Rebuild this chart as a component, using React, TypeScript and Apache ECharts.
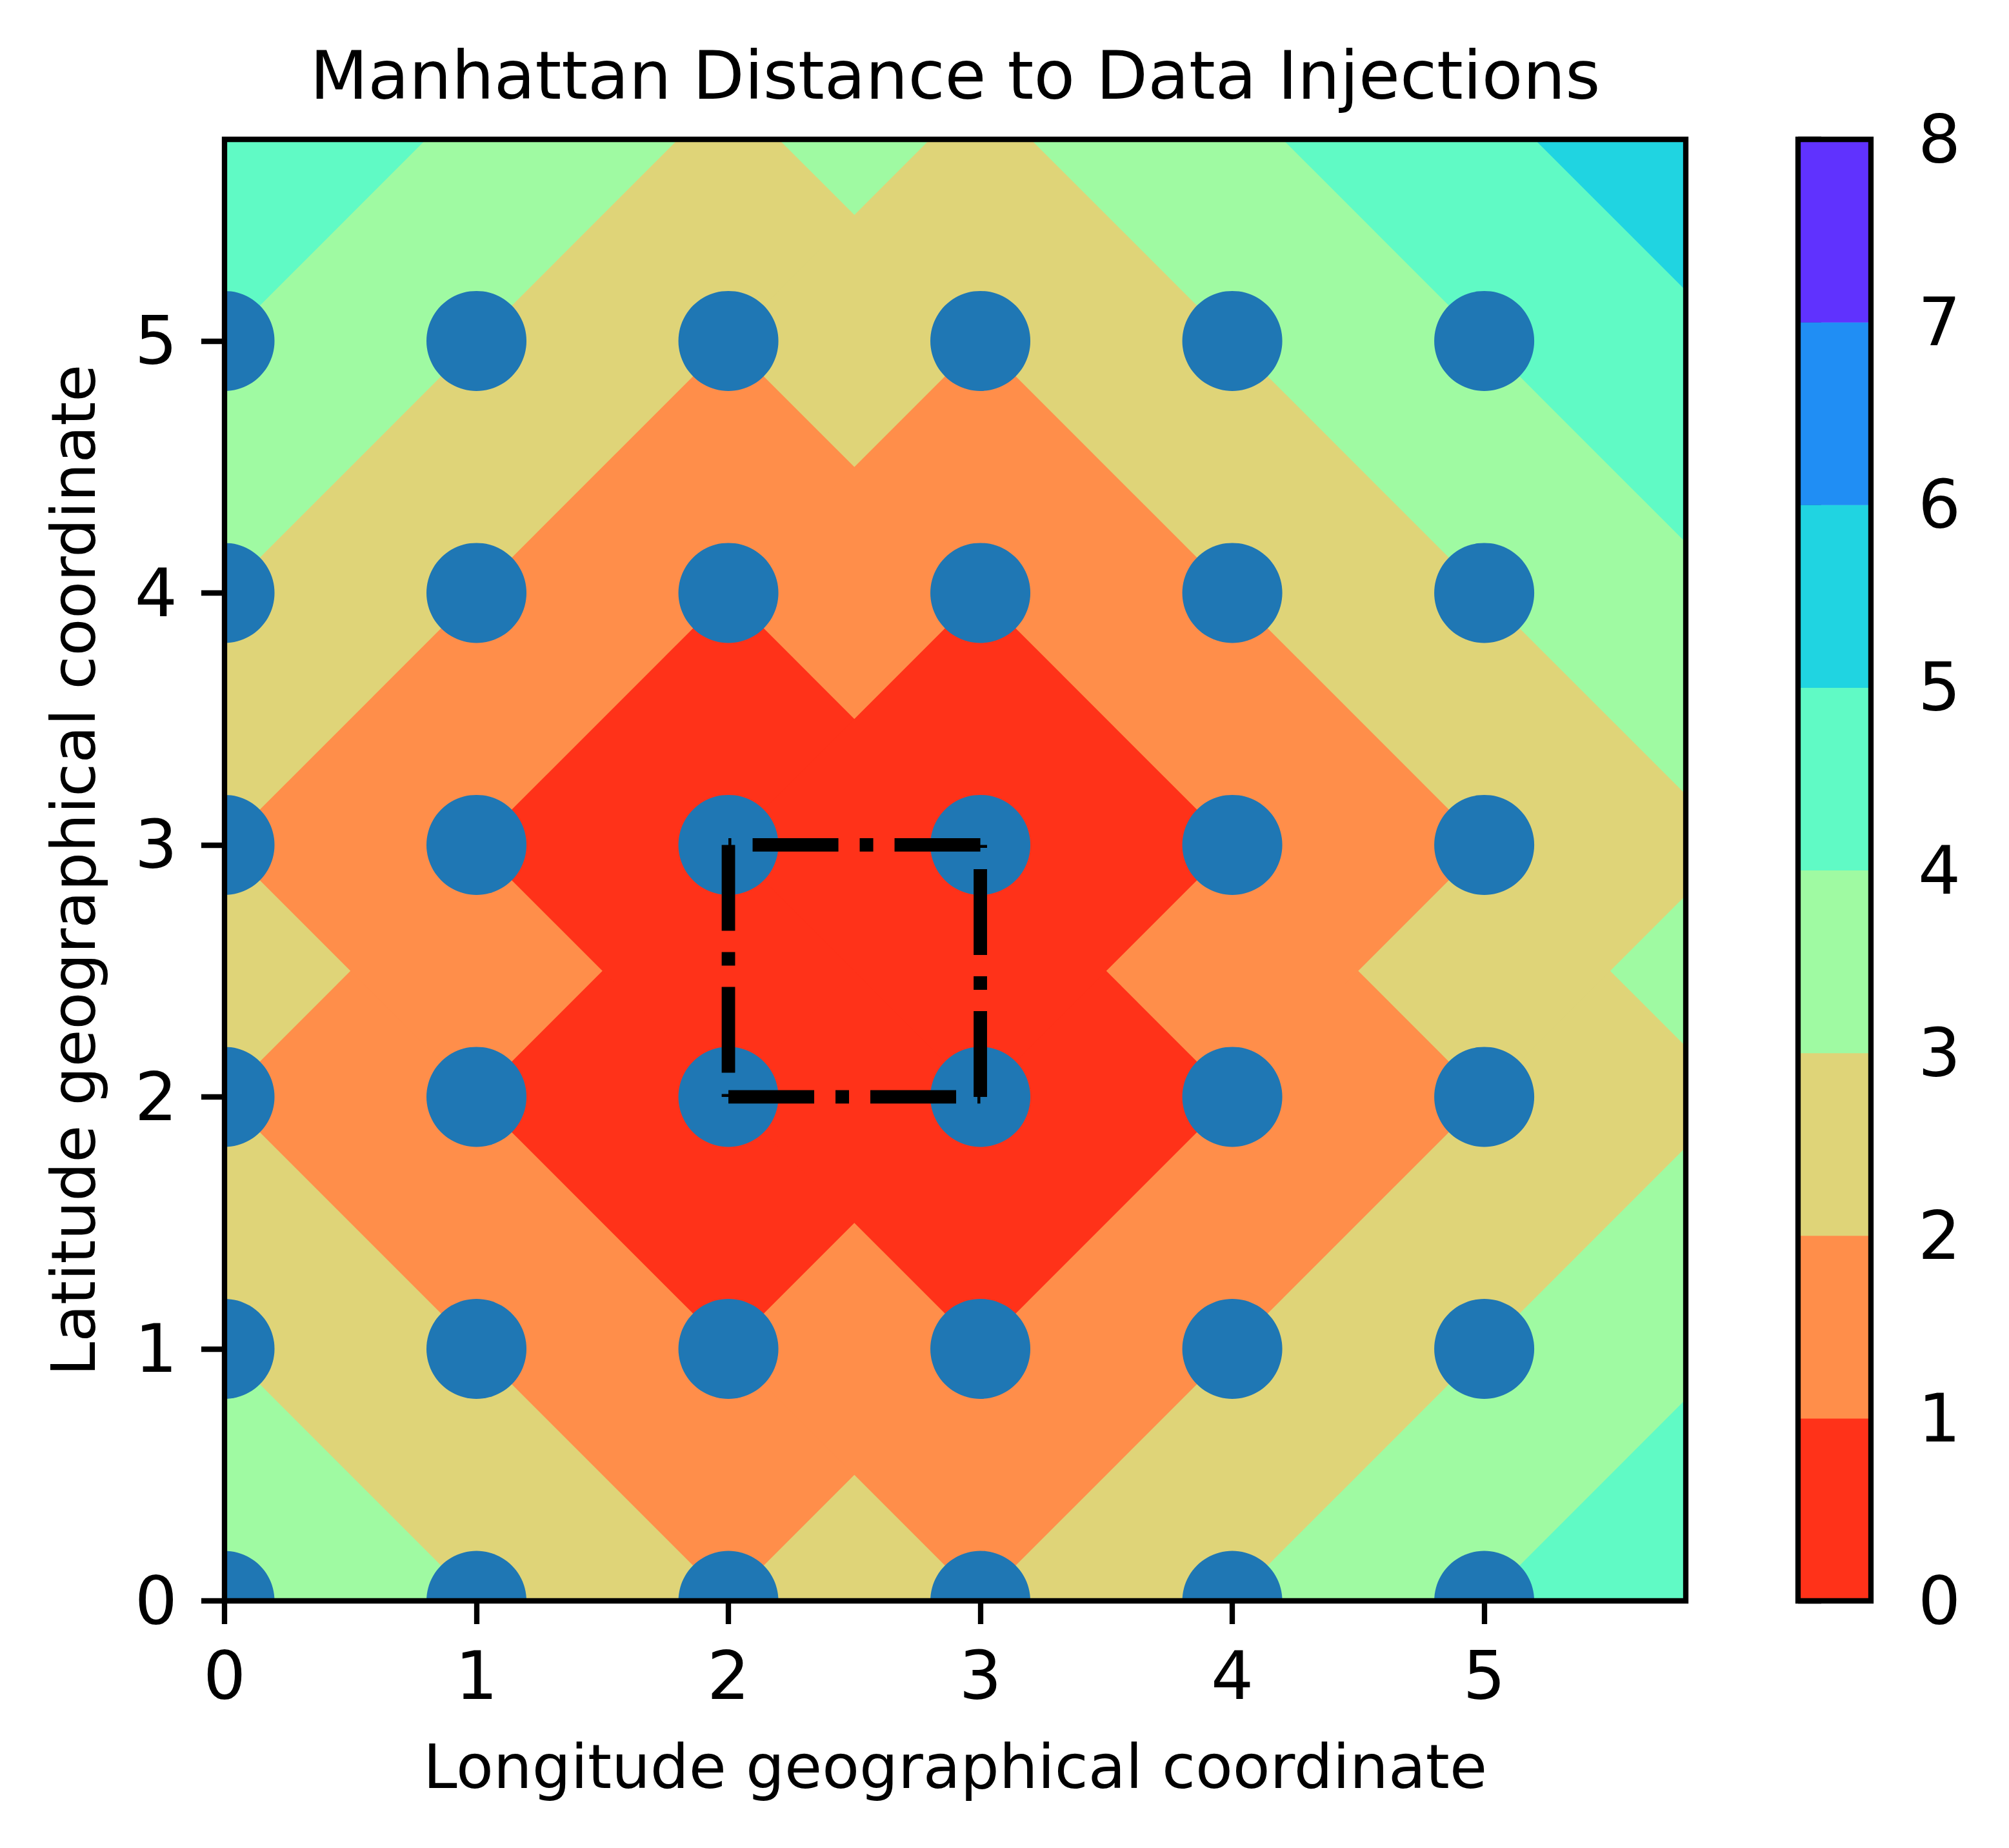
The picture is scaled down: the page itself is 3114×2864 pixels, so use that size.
import React, { useEffect, useRef } from "react";
import * as echarts from "echarts";

const chartTitle = "Manhattan Distance to Data Injections";
const xAxisName = "Longitude geographical coordinate";
const yAxisName = "Latitude geographical coordinate";

// Observation grid (scatter points)
const gridXs = [0, 1, 2, 3, 4, 5];
const gridYs = [0, 1, 2, 3, 4, 5];

// Data injection locations
const injectionXs = [2, 2, 3, 3];
const injectionYs = [2, 3, 2, 3];

// Outline of the injection square (each edge drawn separately)
const rectXs = [2, 3, 3, 2, 2];
const rectYs = [2, 2, 3, 3, 2];

// Contour levels and band colours (rainbow_r)
const levels = [0, 1, 2, 3, 4, 5, 6, 7, 8];
const bandColors = [
  "#ff3219",
  "#ff8e4a",
  "#dfd478",
  "#9ffaa2",
  "#60fac5",
  "#20d4e1",
  "#208ef4",
  "#6032fe",
];

const axisMin = 0;
const axisMax = 5.8;
const tickValues = [0, 1, 2, 3, 4, 5];
const cbarTicks = [0, 1, 2, 3, 4, 5, 6, 7, 8];

const FONT = "DejaVu Sans";

// layout
const G = { left: 348, top: 216, width: 2265, height: 2265 };
const CB = { left: 2787, top: 216, width: 113, height: 2265 };

export default function App() {
  const ref = useRef<HTMLDivElement>(null);

  useEffect(() => {
    if (!ref.current) return;
    const chart = echarts.init(ref.current, undefined, { renderer: "svg" });

    // Filled contour: union of L1 diamonds, largest radius first
    const contourData: number[][] = [];
    for (let k = levels.length - 1; k >= 1; k--) {
      for (let i = 0; i < injectionXs.length; i++) {
        contourData.push([injectionXs[i], injectionYs[i], levels[k], k - 1]);
      }
    }

    const pointData: number[][] = [];
    for (const y of gridYs) for (const x of gridXs) pointData.push([x, y]);

    const cbarData: number[][] = [];
    for (let k = 0; k < levels.length - 1; k++) cbarData.push([0.5, levels[k], levels[k + 1], k]);

    const edgeSeries = [];
    for (let e = 0; e < rectXs.length - 1; e++) {
      edgeSeries.push({
        type: "line",
        xAxisIndex: 0,
        yAxisIndex: 0,
        data: [
          [rectXs[e], rectYs[e]],
          [rectXs[e + 1], rectYs[e + 1]],
        ],
        symbol: "none",
        z: 5,
        lineStyle: { color: "#000", width: 20.8, type: [133, 33, 21, 33], cap: "butt" },
      });
    }

    const tickStyle = { show: true, length: 36, inside: false, lineStyle: { color: "#000", width: 8.3 } };
    const labelStyle = { color: "#000", fontSize: 104, fontFamily: FONT };

    const option: any = {
      animation: false,
      backgroundColor: "#fff",
      grid: [
        { left: G.left, top: G.top, width: G.width, height: G.height, containLabel: false },
        { left: CB.left, top: CB.top, width: CB.width, height: CB.height, containLabel: false },
      ],
      xAxis: [
        {
          type: "value",
          gridIndex: 0,
          min: axisMin,
          max: axisMax,
          axisLine: { show: false },
          splitLine: { show: false },
          axisTick: { ...tickStyle, customValues: tickValues },
          axisLabel: { ...labelStyle, margin: 64, customValues: tickValues },
          name: xAxisName,
          nameLocation: "middle",
          nameGap: 209,
          nameTextStyle: { color: "#000", fontSize: 94.5, fontFamily: FONT },
        },
        {
          type: "value",
          gridIndex: 1,
          min: 0,
          max: 1,
          show: false,
        },
      ],
      yAxis: [
        {
          type: "value",
          gridIndex: 0,
          min: axisMin,
          max: axisMax,
          axisLine: { show: false },
          splitLine: { show: false },
          axisTick: { ...tickStyle, customValues: tickValues },
          axisLabel: { ...labelStyle, margin: 73, customValues: tickValues },
          name: yAxisName,
          nameLocation: "middle",
          nameGap: 187,
          nameTextStyle: { color: "#000", fontSize: 94.5, fontFamily: FONT },
        },
        {
          type: "value",
          gridIndex: 1,
          position: "right",
          min: 0,
          max: 8,
          interval: 1,
          axisLine: { show: false },
          splitLine: { show: false },
          axisTick: { ...tickStyle, customValues: cbarTicks },
          axisLabel: { ...labelStyle, margin: 73, customValues: cbarTicks },
        },
      ],
      series: [
        {
          type: "custom",
          xAxisIndex: 0,
          yAxisIndex: 0,
          clip: true,
          silent: true,
          z: 1,
          data: contourData,
          renderItem: (params: any, api: any) => {
            const cx = api.value(0);
            const cy = api.value(1);
            const r = api.value(2);
            const ci = api.value(3);
            const pts = [
              [cx + r, cy],
              [cx, cy + r],
              [cx - r, cy],
              [cx, cy - r],
            ].map((p) => api.coord(p));
            return { type: "polygon", shape: { points: pts }, style: { fill: bandColors[ci], stroke: null } };
          },
        },
        {
          type: "custom",
          xAxisIndex: 0,
          yAxisIndex: 0,
          clip: true,
          silent: true,
          z: 3,
          data: pointData,
          renderItem: (params: any, api: any) => {
            const c = api.coord([api.value(0), api.value(1)]);
            return { type: "circle", shape: { cx: c[0], cy: c[1], r: 77.5 }, style: { fill: "#1f77b4" } };
          },
        },
        ...edgeSeries,
        {
          type: "custom",
          xAxisIndex: 1,
          yAxisIndex: 1,
          silent: true,
          z: 1,
          data: cbarData,
          encode: { x: 0, y: [1, 2] },
          renderItem: (params: any, api: any) => {
            const p0 = api.coord([0, api.value(1)]);
            const p1 = api.coord([1, api.value(2)]);
            return {
              type: "rect",
              shape: { x: p0[0], y: p1[1], width: p1[0] - p0[0], height: p0[1] - p1[1] + 0.5 },
              style: { fill: bandColors[api.value(3)] },
            };
          },
        },
      ],
      graphic: [
        {
          type: "text",
          x: G.left + G.width / 2,
          y: 65,
          z: 100,
          style: {
            text: chartTitle,
            fontSize: 104,
            fontFamily: FONT,
            fill: "#000",
            textAlign: "center",
            textVerticalAlign: "top",
          },
        },
        {
          type: "rect",
          z: 100,
          shape: { x: G.left, y: G.top, width: G.width, height: G.height },
          style: { fill: "none", stroke: "#000", lineWidth: 8.3 },
        },
        {
          type: "rect",
          z: 100,
          shape: { x: CB.left, y: CB.top, width: CB.width, height: CB.height },
          style: { fill: "none", stroke: "#000", lineWidth: 8.3 },
        },
      ],
    };

    chart.setOption(option);
    return () => chart.dispose();
  }, []);

  return (
    <div
      ref={ref}
      style={{ position: "absolute", left: 0, top: 0, width: 3114, height: 2864, background: "#fff" }}
    />
  );
}
